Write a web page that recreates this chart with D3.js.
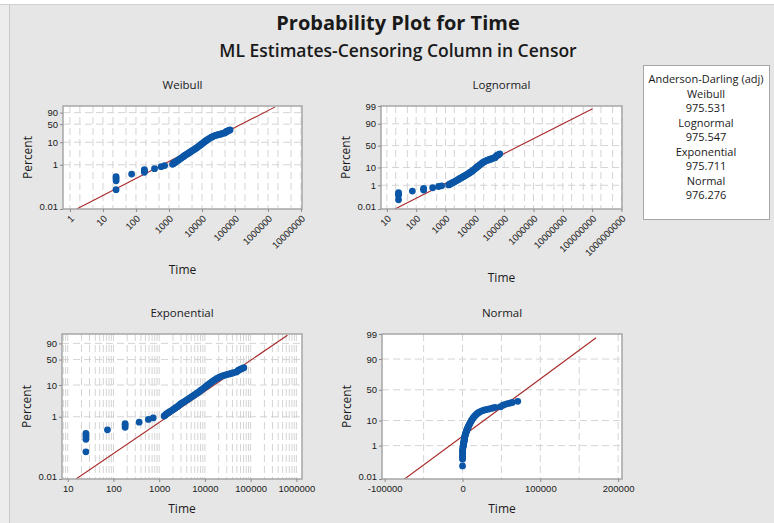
<!DOCTYPE html>
<html>
<head>
<meta charset="utf-8">
<script src="https://cdn.jsdelivr.net/npm/d3@7"></script>
<style>
body { margin: 0; background: #e6e6e6; }
svg { display: block; font-family: "Segoe UI", "Open Sans", "Noto Sans", sans-serif; }
.axis text { font-size: 9.5px; fill: #1a1a1a; }
.axis line { stroke: #8c8c8c; }
.axis path { display: none; }
.grid line { stroke: #d4d4d4; stroke-width: 1; stroke-dasharray: 7,4; }
.frame { fill: none; stroke: #a6a6a6; stroke-width: 1.5; }
.ptitle { font-size: 11.5px; fill: #1a1a1a; text-anchor: middle; }
.atitle { font-size: 12px; fill: #1a1a1a; text-anchor: middle; }
.legend text { font-size: 11px; fill: #1a1a1a; text-anchor: middle; }
</style>
</head>
<body>
<svg id="chart" width="774" height="523"></svg>
<script>
// time, plotted percent
var timePercent = [
  [25, 0.075], [25, 0.19], [25, 0.24], [25, 0.29],
  [74, 0.38],
  [180, 0.46], [180, 0.54], [180, 0.6],
  [365, 0.67], [580, 0.82], [740, 0.92],
  [1280, 1.05], [1350, 1.12], [1420, 1.2], [1500, 1.27], [1600, 1.35],
  [1700, 1.45], [1850, 1.55], [2000, 1.68], [2150, 1.8], [2300, 1.95],
  [2500, 2.1], [2700, 2.3], [2900, 2.5], [3100, 2.7], [3400, 2.9],
  [3700, 3.15], [4000, 3.4], [4300, 3.65], [4700, 3.95], [5100, 4.3],
  [5500, 4.6], [6000, 5.0], [6500, 5.4], [7000, 5.8], [7600, 6.3],
  [8200, 6.9], [8900, 7.5], [9600, 8.2], [10400, 8.9], [11200, 9.7],
  [12000, 10.5], [13000, 11.4], [14000, 12.3], [15200, 13.3], [16500, 14.3],
  [18000, 15.4], [19500, 16.4], [21000, 17.3], [23000, 18.2], [25000, 19.0],
  [27500, 19.7], [30000, 20.4], [33000, 21.0], [36000, 21.7], [39000, 22.4],
  [42000, 23.0], [49000, 24.0], [52000, 26.0], [55000, 27.2], [58000, 28.2],
  [61000, 29.0], [64000, 29.8], [71000, 31.5]
];

// fitted parameters (ML estimates)
var weibullFit = { shape: 0.769, scale: 255000 };
var lognormalFit = { loc: 12.74, scale: 2.635 };
var exponentialFit = { mean: 152000 };
var normalFit = { mean: 81000, sd: 41800 };

var percentTicksW = [0.01, 1, 10, 50, 90];
var percentTicksN = [0.01, 1, 10, 50, 90, 99];
var weibullXTicks = [1, 10, 100, 1000, 10000, 100000, 1000000, 10000000];
var lognormalXTicks = [10, 100, 1000, 10000, 100000, 1000000, 10000000, 100000000, 1000000000];
var exponentialXTicks = [10, 100, 1000, 10000, 100000, 1000000];
var normalXTicks = [-100000, 0, 100000, 200000];
var normalXGrid = [-50000, 0, 50000, 100000, 150000, 200000];

var adNames = ["Weibull", "Lognormal", "Exponential", "Normal"];
var adValues = ["975.531", "975.547", "975.711", "976.276"];

// inverse standard normal (Acklam)
function qnorm(p) {
  var a = [-39.69683028665376, 220.9460984245205, -275.9285104469687, 138.3577518672690, -30.66479806614716, 2.506628277459239];
  var b = [-54.47609879822406, 161.5858368580409, -155.6989798598866, 66.80131188771972, -13.28068155288572];
  var c = [-0.007784894002430293, -0.3223964580411365, -2.400758277161838, -2.549732539343734, 4.374664141464968, 2.938163982698783];
  var d = [0.007784695709041462, 0.3224671290700398, 2.445134137142996, 3.754408661907416];
  var pl = 0.02425, q, r;
  if (p < pl) {
    q = Math.sqrt(-2 * Math.log(p));
    return (((((c[0]*q+c[1])*q+c[2])*q+c[3])*q+c[4])*q+c[5]) / ((((d[0]*q+d[1])*q+d[2])*q+d[3])*q+1);
  }
  if (p > 1 - pl) {
    q = Math.sqrt(-2 * Math.log(1 - p));
    return -(((((c[0]*q+c[1])*q+c[2])*q+c[3])*q+c[4])*q+c[5]) / ((((d[0]*q+d[1])*q+d[2])*q+d[3])*q+1);
  }
  q = p - 0.5; r = q * q;
  return (((((a[0]*r+a[1])*r+a[2])*r+a[3])*r+a[4])*r+a[5])*q / (((((b[0]*r+b[1])*r+b[2])*r+b[3])*r+b[4])*r+1);
}
function sev(p) { return Math.log(-Math.log(1 - p)); }

var lineP = [0.0001, 0.985];

var panels = [
  { name: "Weibull", box: [63, 106, 302, 209], xType: "log", xDomain: [Math.pow(10, -0.21), Math.pow(10, 7.03)],
    xTicks: weibullXTicks, rotate: true, grid: [1, 2, 5], yT: sev, yTicks: percentTicksW, xTitleY: 274,
    quant: function (p) { return weibullFit.scale * Math.pow(-Math.log(1 - p), 1 / weibullFit.shape); } },
  { name: "Lognormal", box: [381, 106, 622, 209], xType: "log", xDomain: [Math.pow(10, 0.8), Math.pow(10, 9.02)],
    xTicks: lognormalXTicks, rotate: true, grid: [1, 2, 5], yT: qnorm, yTicks: percentTicksN, xTitleY: 282,
    quant: function (p) { return Math.exp(lognormalFit.loc + lognormalFit.scale * qnorm(p)); } },
  { name: "Exponential", box: [62, 334, 302, 479], xType: "log", xDomain: [Math.pow(10, 0.875), Math.pow(10, 6.123)],
    xTicks: exponentialXTicks, rotate: false, grid: [1, 2, 3, 4, 5, 6, 7, 8, 9], yT: sev, yTicks: percentTicksW, xTitleY: 513,
    quant: function (p) { return -exponentialFit.mean * Math.log(1 - p); } },
  { name: "Normal", box: [382, 334, 622, 479], xType: "lin", xDomain: [-103500, 205000],
    xTicks: normalXTicks, rotate: false, yT: qnorm, yTicks: percentTicksN, xTitleY: 513,
    quant: function (p) { return normalFit.mean + normalFit.sd * qnorm(p); } }
];

var svg = d3.select("#chart");
svg.append("rect").attr("width", 774).attr("height", 523).attr("fill", "#e6e6e6");
svg.append("rect").attr("width", 774).attr("height", 4).attr("fill", "#ffffff");
svg.append("rect").attr("y", 4).attr("width", 9).attr("height", 519).attr("fill", "#ededed");
svg.append("line").attr("x1", 9.5).attr("x2", 9.5).attr("y1", 4).attr("y2", 523).attr("stroke", "#c8c8c8");
svg.append("line").attr("x1", 0).attr("x2", 774).attr("y1", 4.5).attr("y2", 4.5).attr("stroke", "#d0d0d0");

svg.append("text").attr("x", 398).attr("y", 30).attr("text-anchor", "middle")
  .style("font-size", "20px").style("font-weight", "bold").attr("fill", "#1a1a1a")
  .text("Probability Plot for Time");
svg.append("text").attr("x", 398).attr("y", 57).attr("text-anchor", "middle")
  .style("font-size", "17.5px").style("font-weight", "600").attr("fill", "#1a1a1a")
  .text("ML Estimates-Censoring Column in Censor");

panels.forEach(function (pn, i) {
  var x0 = pn.box[0], y0 = pn.box[1], x1 = pn.box[2], y1 = pn.box[3];
  var x = (pn.xType === "log" ? d3.scaleLog() : d3.scaleLinear()).domain(pn.xDomain).range([x0, x1]);
  var y = d3.scaleLinear().domain([pn.yT(0.0001), pn.yT(0.99)]).range([y1, y0]);
  var g = svg.append("g");

  g.append("rect").attr("x", x0).attr("y", y0).attr("width", x1 - x0).attr("height", y1 - y0).attr("fill", "#fff");

  // vertical grid
  var vgrid = [];
  if (pn.xType === "log") {
    for (var k = -1; k <= 10; k++) {
      pn.grid.forEach(function (m) {
        var v = m * Math.pow(10, k);
        if (v > pn.xDomain[0] * 1.02 && v < pn.xDomain[1] * 0.98) vgrid.push(v);
      });
    }
  } else {
    vgrid = normalXGrid;
  }
  var gg = g.append("g").attr("class", "grid");
  gg.selectAll("line.v").data(vgrid).enter().append("line")
    .attr("x1", function (d) { return x(d); }).attr("x2", function (d) { return x(d); })
    .attr("y1", y0).attr("y2", y1);
  gg.selectAll("line.h").data(pn.yTicks.filter(function (d) { return d > 0.01 && d < 99; })).enter().append("line")
    .attr("x1", x0).attr("x2", x1)
    .attr("y1", function (d) { return y(pn.yT(d / 100)); }).attr("y2", function (d) { return y(pn.yT(d / 100)); });

  // fitted line
  var clipId = "clip" + i;
  svg.append("clipPath").attr("id", clipId).append("rect")
    .attr("x", x0).attr("y", y0).attr("width", x1 - x0).attr("height", y1 - y0);
  var lineFn = d3.line().x(function (p) { return x(pn.quant(p)); }).y(function (p) { return y(pn.yT(p)); });
  g.append("path").datum(lineP).attr("d", lineFn).attr("clip-path", "url(#" + clipId + ")")
    .attr("fill", "none").attr("stroke", "#a82828").attr("stroke-width", 1.1);

  // points
  g.selectAll("circle").data(timePercent).enter().append("circle")
    .attr("cx", function (d) { return x(d[0]); })
    .attr("cy", function (d) { return y(pn.yT(d[1] / 100)); })
    .attr("r", 3.4).attr("fill", "#0b56a6");

  g.append("rect").attr("class", "frame").attr("x", x0).attr("y", y0).attr("width", x1 - x0).attr("height", y1 - y0);

  // axes
  var ya = d3.axisLeft(y).tickValues(pn.yTicks.map(function (d) { return pn.yT(d / 100); }))
    .tickFormat(function (d, j) { return String(pn.yTicks[j]); }).tickSizeInner(3).tickSizeOuter(0).tickPadding(2);
  var yg = g.append("g").attr("class", "axis").attr("transform", "translate(" + x0 + ",0)").call(ya);
  // lift the bottom label a little so it clears the x labels
  yg.selectAll("text").filter(function (d, j) { return j === 0; }).attr("dy", "0.1em");

  var xa = d3.axisBottom(x).tickValues(pn.xTicks).tickFormat(function (d) { return String(d); })
    .tickSizeInner(3).tickSizeOuter(0).tickPadding(3);
  var xg = g.append("g").attr("class", "axis").attr("transform", "translate(0," + y1 + ")").call(xa);
  if (pn.rotate) {
    xg.selectAll("text").attr("x", 0).attr("y", 0).attr("dy", "0.35em")
      .attr("transform", "translate(2,8) rotate(-45)").style("text-anchor", "end");
  }

  g.append("text").attr("class", "ptitle").attr("x", (x0 + x1) / 2).attr("y", y0 - 17).text(pn.name);
  g.append("text").attr("class", "atitle").attr("x", (x0 + x1) / 2).attr("y", pn.xTitleY).text("Time");
  var py = (y0 + y1) / 2, px = x0 - 35;
  g.append("text").attr("class", "atitle").attr("transform", "translate(" + px + "," + py + ") rotate(-90)")
    .attr("dy", "0.35em").text("Percent");
});

// Anderson-Darling box
var leg = svg.append("g").attr("class", "legend");
leg.append("rect").attr("x", 643.5).attr("y", 65.5).attr("width", 126).attr("height", 154)
  .attr("fill", "#fff").attr("stroke", "#a6a6a6");
var legLines = ["Anderson-Darling (adj)"];
adNames.forEach(function (n, j) { legLines.push(n); legLines.push(adValues[j]); });
leg.selectAll("text").data(legLines).enter().append("text")
  .attr("x", 706).attr("y", function (d, j) { return 83 + j * 14.5; }).text(function (d) { return d; });
</script>
</body>
</html>
